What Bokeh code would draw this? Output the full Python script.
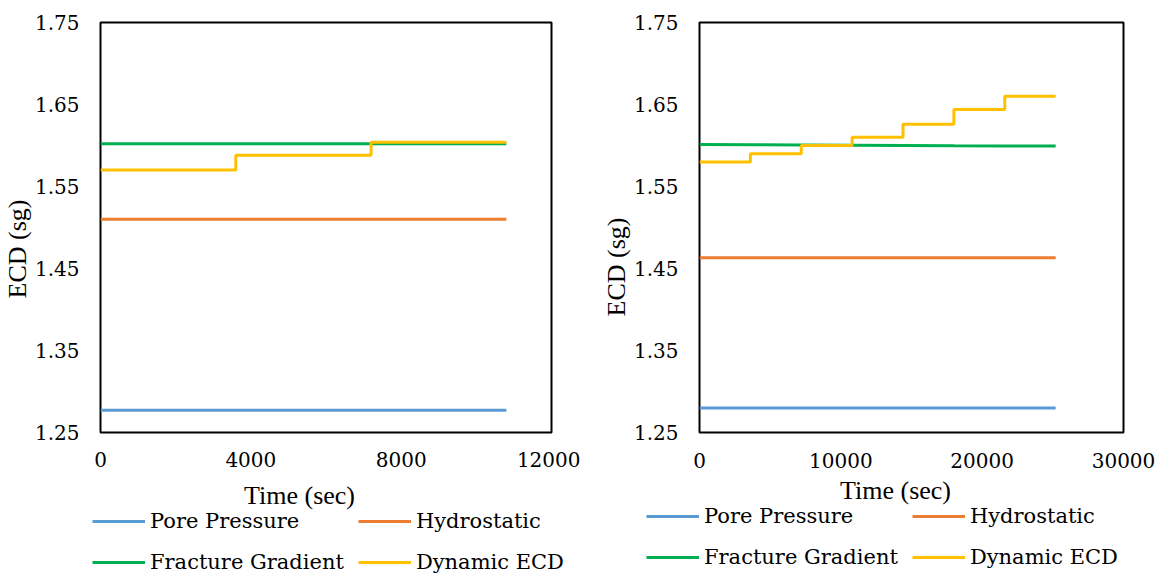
import math
from bokeh.plotting import figure
from bokeh.layouts import row, column
from bokeh.models import (Range1d, FixedTicker, PrintfTickFormatter, Legend,
                          LegendItem, Title, Label)
from bokeh.embed import file_html
from bokeh.resources import INLINE

FONT = "Liberation Serif"
TICK_FONT = "DejaVu Serif"

# ---------------- data ----------------
series_names = ["Pore Pressure", "Hydrostatic", "Fracture Gradient", "Dynamic ECD"]
series_colors = ["#5B9BD5", "#ED7D31", "#00B050", "#FFC000"]
y_ticks = [1.25, 1.35, 1.45, 1.55, 1.65, 1.75]

# left chart (3 h run)
left_x_ticks = [0, 4000, 8000, 12000]
left_time = [0, 10800]
left_pore = [1.277, 1.277]
left_hydro = [1.510, 1.510]
left_frac = [1.602, 1.602]
left_dyn_time = [0, 3600, 7200, 10800]
left_dyn = [1.570, 1.588, 1.604, 1.604]

# right chart (7 h run)
right_x_ticks = [0, 10000, 20000, 30000]
right_time = [0, 25200]
right_pore = [1.280, 1.280]
right_hydro = [1.463, 1.463]
right_step_time = [0, 3600, 7200, 10800, 14400, 18000, 21600, 25200]
right_frac = [1.6012, 1.6009, 1.6006, 1.6003, 1.6000, 1.5997, 1.5995, 1.5993]
right_dyn = [1.580, 1.590, 1.600, 1.610, 1.626, 1.644, 1.660, 1.660]


def add_series(p, t, pore, hydro, frac_t, frac, dyn_t, dyn):
    r1 = p.line(t, pore, line_color=series_colors[0], line_width=3)
    r2 = p.line(t, hydro, line_color=series_colors[1], line_width=3)
    r3 = p.line(frac_t, frac, line_color=series_colors[2], line_width=3)
    r4 = p.step(dyn_t, dyn, mode="after", line_color=series_colors[3], line_width=3)
    return [r1, r2, r3, r4]


def make_chart(width, height, borders, x_max, x_ticks, data, ylab_offset, xstandoff):
    left, right, top, bottom = borders
    p = figure(width=width, height=height, output_backend="svg",
               toolbar_location=None,
               x_range=Range1d(0, x_max), y_range=Range1d(1.25, 1.75),
               min_border_left=left, min_border_right=right,
               min_border_top=top, min_border_bottom=bottom)
    p.background_fill_color = "white"
    p.border_fill_color = "white"
    p.outline_line_color = "black"
    p.outline_line_width = 2
    p.grid.visible = False

    p.axis.axis_line_color = None
    p.axis.major_tick_line_color = None
    p.axis.minor_tick_line_color = None
    p.axis.major_tick_out = 0
    p.axis.major_tick_in = 0
    p.axis.major_label_text_font_size = "20px"
    p.axis.major_label_text_color = "black"
    p.axis.major_label_text_font_style = "normal"
    p.axis.major_label_text_font = TICK_FONT
    p.xaxis.ticker = FixedTicker(ticks=x_ticks)
    p.xaxis.formatter = PrintfTickFormatter(format="%d")
    p.xaxis.major_label_standoff = xstandoff
    p.yaxis.ticker = FixedTicker(ticks=y_ticks)
    p.yaxis.formatter = PrintfTickFormatter(format="%.2f")
    p.yaxis.major_label_standoff = 21

    add_series(p, *data)

    ytitle = Title(text="ECD (sg)", align="left", offset=ylab_offset,
                   standoff=0, text_font=FONT, text_font_size="26px",
                   text_font_style="normal", text_color="black")
    p.add_layout(ytitle, "left")
    return p


def add_legend(q, data, xlab_pos, legend_pos, col_pitch):
    rends = add_series(q, *data)
    xlab = Label(x=xlab_pos[0], y=xlab_pos[1], x_units="screen", y_units="screen",
                 text="Time (sec)", text_align="center", text_baseline="middle",
                 text_font=FONT, text_font_size="26px", text_color="black")
    q.add_layout(xlab)
    items = [LegendItem(label=n, renderers=[r]) for n, r in zip(series_names, rends)]
    glyph_w = 53
    spacing = 14
    leg = Legend(items=items, orientation="horizontal", ncols=2,
                 location=legend_pos,
                 glyph_width=glyph_w, glyph_height=20, label_standoff=5,
                 label_width=col_pitch - glyph_w - 5 - spacing, label_height=27,
                 spacing=spacing, padding=0, margin=0,
                 border_line_color=None, background_fill_alpha=0,
                 label_text_font_size="21px",
                 label_text_color="black")
    leg.label_text_font = TICK_FONT
    leg.label_text_font_style = "normal"
    q.add_layout(leg)


left_data = (left_time, left_pore, left_hydro, left_time, left_frac,
             left_dyn_time, left_dyn)
right_data = (right_time, right_pore, right_hydro, right_step_time, right_frac,
              right_step_time, right_dyn)

H = 480
p1 = make_chart(580, H, (98, 29, 22, H - 435), 12000, left_x_ticks, left_data,
                ylab_offset=134, xstandoff=19)
p2 = make_chart(581, H, (119, 38, 20, H - 432), 30000, right_x_ticks, right_data,
                ylab_offset=116, xstandoff=20)

# bottom strip: its frame fills the whole canvas; it carries the x-axis titles
# and the legends (its series lie outside its visible range)
q = figure(width=1161, height=575 - H, output_backend="svg",
           toolbar_location=None, x_axis_type=None, y_axis_type=None,
           x_range=Range1d(0, 1), y_range=Range1d(0, 1),
           min_border_left=0, min_border_right=0,
           min_border_top=0, min_border_bottom=0)
q.outline_line_color = None
q.grid.visible = False
q.background_fill_color = "white"
q.border_fill_color = "white"
add_legend(q, left_data, xlab_pos=(299, 575 - 495), legend_pos=(92, 0),
           col_pitch=261)
add_legend(q, right_data, xlab_pos=(895, 575 - 490), legend_pos=(646, 5),
           col_pitch=259)

layout = column(row(p1, p2), q)
open("out.html", "w").write(file_html(layout, INLINE))
